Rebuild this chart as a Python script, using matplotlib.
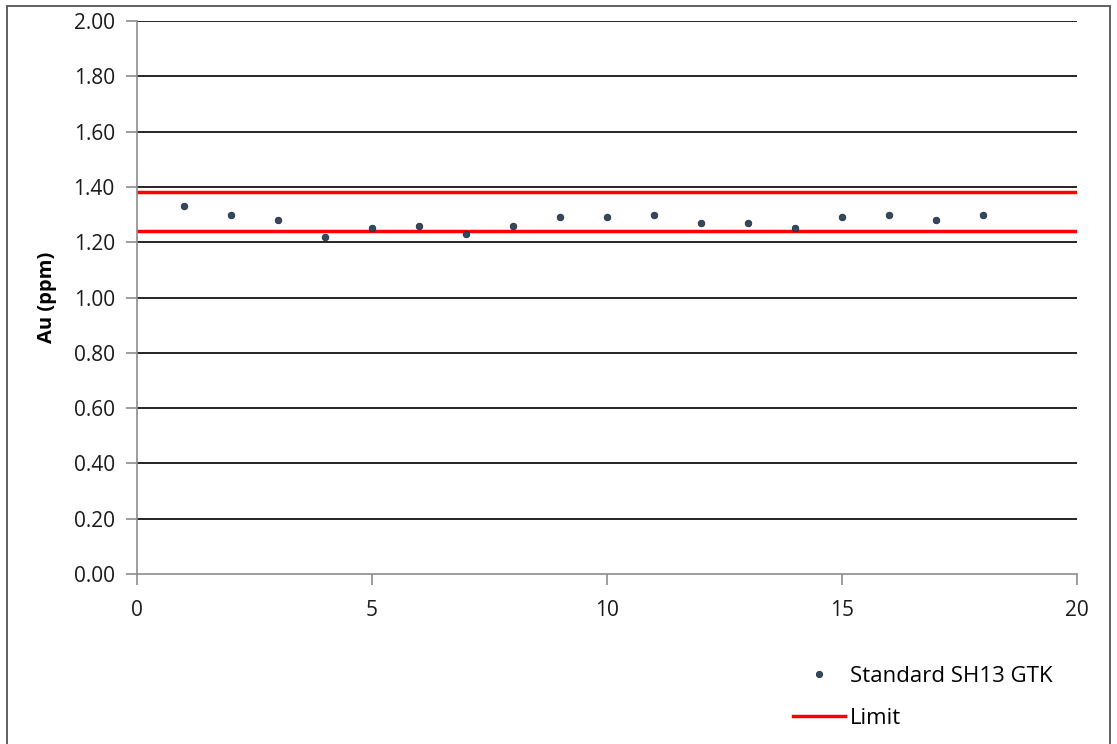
import matplotlib
matplotlib.use("Agg")
import matplotlib.pyplot as plt
from matplotlib.patches import Rectangle
from matplotlib.lines import Line2D

plt.rcParams['font.family'] = ['Open Sans', 'DejaVu Sans']

sample_no = [1, 2, 3, 4, 5, 6, 7, 8, 9, 10, 11, 12, 13, 14, 15, 16, 17, 18]
au_ppm = [1.33, 1.30, 1.28, 1.22, 1.25, 1.26, 1.23, 1.26, 1.29, 1.29, 1.30,
          1.27, 1.27, 1.25, 1.29, 1.30, 1.28, 1.30]
limit_upper = 1.38
limit_lower = 1.24
x_limits = [0, 20]
y_ticks = [0.0, 0.2, 0.4, 0.6, 0.8, 1.0, 1.2, 1.4, 1.6, 1.8, 2.0]
x_ticks = [0, 5, 10, 15, 20]

W, H = 1117, 744
fig = plt.figure(figsize=(W / 100, H / 100), dpi=100)
ax = fig.add_axes([137 / W, (H - 574) / H, 940 / W, 553 / H])

# outer frame
fig.patches.append(Rectangle((7 / W, -0.01), (1110 - 7) / W, (H - 6) / H + 0.01,
                             transform=fig.transFigure, fill=False,
                             edgecolor='#555555', linewidth=1.3, zorder=0))

for yv in y_ticks[1:]:
    ax.axhline(yv, color='black', linewidth=1.2, zorder=1)

ax.axhline(limit_upper, color='#ff0000', linewidth=2.5, zorder=2)
ax.axhline(limit_lower, color='#ff0000', linewidth=2.5, zorder=2)

ax.scatter(sample_no, au_ppm, s=22, color='#34495e', edgecolors='#1f2d3d',
           linewidths=0.6, zorder=3)

ax.set_xlim(*x_limits)
ax.set_ylim(0, 2.0)
ax.set_xticks(x_ticks)
ax.set_yticks(y_ticks)
ax.set_yticklabels([f"{v:.2f}" for v in y_ticks])

for side in ['top', 'right']:
    ax.spines[side].set_visible(False)
for side in ['left', 'bottom']:
    ax.spines[side].set_color('#8c8c8c')
    ax.spines[side].set_linewidth(1.2)

ax.tick_params(axis='both', direction='out', length=8, width=1.2,
               color='#8c8c8c', labelsize=15, labelcolor='#1a1a1a')
ax.tick_params(axis='y', pad=8)
ax.tick_params(axis='x', pad=11)

ax.set_ylabel('Au (ppm)', fontsize=14.5, fontweight='bold', labelpad=12)

handles = [
    Line2D([], [], linestyle='none', marker='o', markersize=4.5,
           markerfacecolor='#34495e', markeredgecolor='#1f2d3d', markeredgewidth=0.6),
    Line2D([], [], color='#ff0000', linewidth=2.5),
]
fig.legend(handles, ['Standard SH13 GTK', 'Limit'], loc='upper left',
           bbox_to_anchor=(793 / W, 1 - 666 / H), frameon=False,
           fontsize=16, handlelength=2.35, handletextpad=0.2,
           labelspacing=0.95, borderpad=0, borderaxespad=0)

fig.savefig('out.png', dpi=100)
